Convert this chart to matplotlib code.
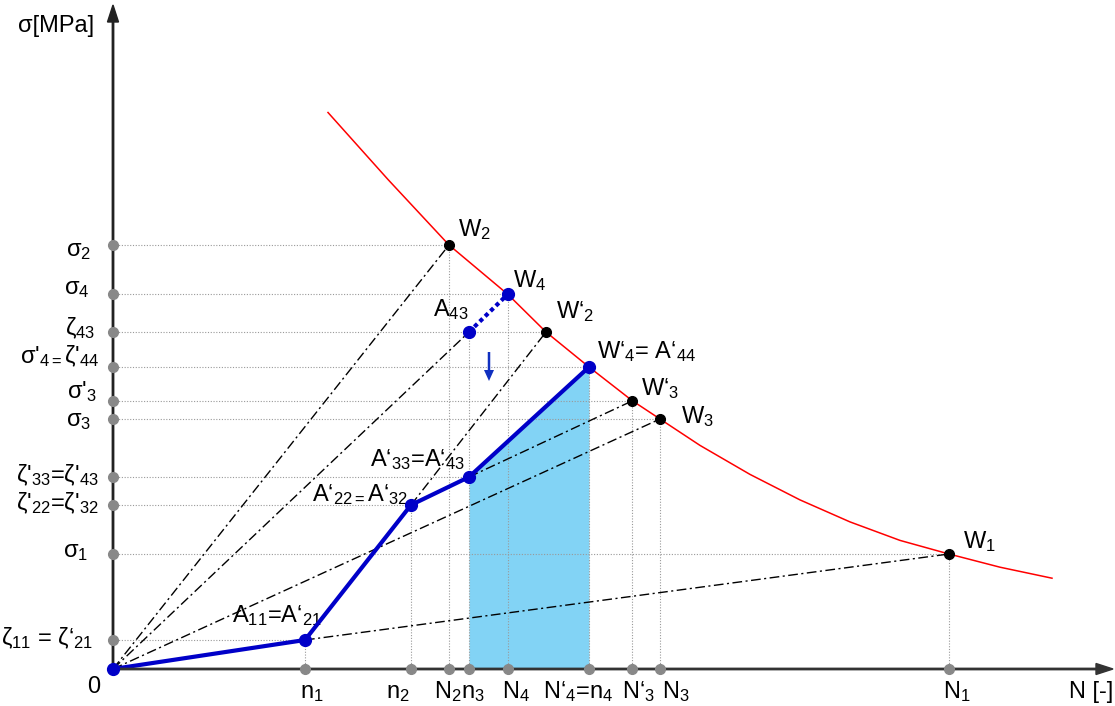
import numpy as np
import matplotlib
matplotlib.use("Agg")
import matplotlib.pyplot as plt

plt.rcParams['font.family'] = ['Liberation Sans', 'DejaVu Sans']
plt.rcParams['mathtext.fontset'] = 'custom'
plt.rcParams['mathtext.rm'] = 'Liberation Sans'
plt.rcParams['mathtext.it'] = 'Liberation Sans'
plt.rcParams['mathtext.default'] = 'regular'

# cycle counts (N axis)
n1, n2, N2, n3, N4 = 192, 298, 336, 356, 395
N2p = 433          # N'2
n4 = 476           # N'4 = n4
N3p, N3, N1 = 519, 547, 836

# stress levels (sigma axis)
s2, s4, z43, s4p = 424, 375, 337, 302
s3p, s3 = 268, 250
z33, z22, s1, z11 = 192, 164, 115, 29

# Woehler curve, points
curve_N = [215, 275, 336, 395, 433, 476, 519, 547, 587, 637, 687, 737, 787, 836, 887, 939]
curve_s = [556.5, 489.5, 424, 374.5, 337, 302, 268.5, 250, 223.6, 194.6, 169.1, 147.1, 128.6, 115, 101.8, 90.8]

# damage path 0 -> A11 -> A'22 -> A'33 -> W'4
path_N = [0, n1, n2, n3, n4]
path_s = [0, z11, z22, z33, s4p]

y_levels = [s2, s4, z43, s4p, s3p, s3, z33, z22, s1, z11]
x_levels = [n1, n2, N2, n3, N4, n4, N3p, N3, N1]

# horizontal guides (level, end N) and vertical guides (N, top level)
h_guides = [(s2, N2), (s4, N4), (z43, N2p), (s4p, n4), (s3p, N3p), (s3, N3),
            (z33, n3), (z22, n2), (s1, N1), (z11, n1)]
v_guides = [(n1, z11), (n2, z22), (N2, s2), (n3, z43), (N4, s4), (n4, s4p),
            (N3p, s3p), (N3, s3), (N1, s1)]

# dash-dot rays (start, end)
rays = [((0, 0), (N2, s2)), ((0, 0), (n3, z43)), ((0, 0), (N3, s3)),
        ((n1, z11), (N1, s1)), ((n2, z22), (N2p, z43)), ((n3, z33), (N3p, s3p))]

black_pts = [(N2, s2), (N2p, z43), (N3p, s3p), (N3, s3), (N1, s1)]
blue_pts = [(0, 0), (n1, z11), (n2, z22), (n3, z33), (n3, z43), (N4, s4), (n4, s4p)]

BLUE = '#0000C8'
GRAY = '#888888'

fig = plt.figure(figsize=(11.15, 7.06), dpi=100)
ax = fig.add_axes([0, 0, 1, 1])
ax.set_xlim(-113, 1002)
ax.set_ylim(-37, 669)
ax.axis('off')


def px(x, y):
    # picture pixel -> data units
    return x - 113, 669 - y


# shaded area
ax.fill_between([n3, n4], [z33, s4p], 0, color='#82D3F5', lw=0, zorder=1)

# guides
for lev, nn in h_guides:
    ax.plot([0, nn], [lev, lev], color='#999999', lw=0.8, ls=(0, (1, 1.5)), zorder=2)
for nn, lev in v_guides:
    ax.plot([nn, nn], [0, lev], color='#999999', lw=0.8, ls=(0, (1, 1.5)), zorder=2)

# rays
for (xa, ya), (xb, yb) in rays:
    ax.plot([xa, xb], [ya, yb], color='black', lw=1.0, ls=(0, (7, 2.5, 1.5, 2.5)), zorder=3)

# red curve
ax.plot(curve_N, curve_s, color='red', lw=1.1, zorder=3)

# blue path
ax.plot(path_N, path_s, color=BLUE, lw=3.0, zorder=4, solid_capstyle='round')
ax.plot([n3, N4], [z43, s4], color=BLUE, lw=3.0, ls=(0, (1, 0.8)), zorder=4)

# axes
ax.arrow(0, 0, 1000, 0, width=1.4, head_width=11, head_length=17,
         length_includes_head=True, color='#333333', zorder=5)
ax.arrow(0, 0, 0, 664, width=1.4, head_width=11, head_length=17,
         length_includes_head=True, color='#222222', zorder=5)

# axis markers
ax.plot([0] * len(y_levels), y_levels, 'o', color=GRAY, ms=7, zorder=6)
ax.plot(x_levels, [0] * len(x_levels), 'o', color=GRAY, ms=7, zorder=6)

# points
ax.plot([p[0] for p in black_pts], [p[1] for p in black_pts], 'o', color='black', ms=7, zorder=7)
ax.plot([p[0] for p in blue_pts], [p[1] for p in blue_pts], 'o', color=BLUE, ms=8.5, zorder=7)

# small arrow
xa, ya = px(489, 352)
ax.arrow(xa, ya, 0, -29, width=2.5, head_width=10, head_length=11,
         length_includes_head=True, color='#1030C0', lw=0, zorder=7)

fs = 17
left_labels = [
    ('σ$_2$', 91, 256), ('σ$_4$', 90, 294), ('ζ$_{43}$', 95, 335),
    ("σ'$_{4=}$ζ'$_{44}$", 99, 363), ("σ'$_3$", 97, 398), ('σ$_3$', 91, 426),
    ("ζ'$_{33}$=ζ'$_{43}$", 99, 482), ("ζ'$_{22}$=ζ'$_{32}$", 99, 510),
    ('σ$_1$', 88, 557), ('ζ$_{11}$ = ζ‘$_{21}$', 93, 645), ('0', 100, 693),
]
for t, x, y in left_labels:
    ax.text(*px(x, y), t, fontsize=fs, ha='right', va='baseline')

other_labels = [
    ('σ[MPa]', 18, 32),
    ('n$_1$', 300, 698), ('n$_2$', 386, 698), ('N$_2$n$_3$', 434, 698),
    ('N$_4$', 502, 698), ('N‘$_4$=n$_4$', 543, 698), ('N‘$_3$', 622, 698),
    ('N$_3$', 662, 698), ('N$_1$', 943, 698), ('N [-]', 1069, 698),
    ('W$_2$', 458, 236), ('W$_4$', 513, 287), ('A$_{43}$', 433, 316),
    ('W‘$_2$', 556, 318), ('W‘$_4$= A‘$_{44}$', 597, 358), ('W‘$_3$', 641, 395),
    ('W$_3$', 681, 423), ('W$_1$', 963, 548),
    ('A‘$_{33}$=A‘$_{43}$', 370, 466), ('A‘$_{22=}$A‘$_{32}$', 312, 501),
    ('A$_{11}$=A‘$_{21}$', 232, 622),
]
for t, x, y in other_labels:
    ax.text(*px(x, y), t, fontsize=fs, ha='left', va='baseline')

fig.savefig('out.png', dpi=100)
